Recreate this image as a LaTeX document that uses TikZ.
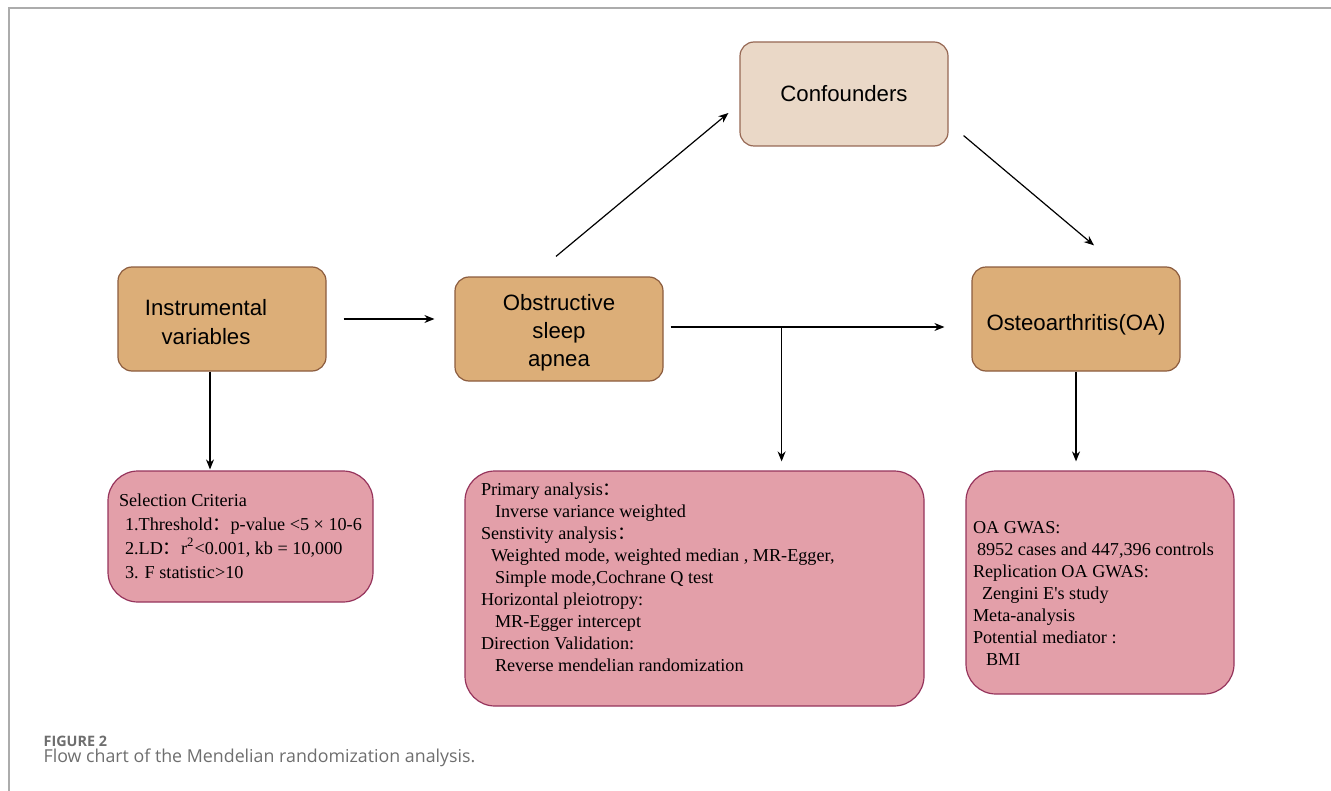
\documentclass[tikz,border=0pt]{standalone}
\usepackage{fontspec}
\setmainfont{Liberation Serif}
\setsansfont{Liberation Sans}
\newfontfamily\cjk{Noto Sans CJK SC}
\newfontfamily\capfont{Open Sans}
\usepackage{tikz}
\usetikzlibrary{arrows.meta,positioning}

\definecolor{tanfill}{RGB}{220,174,120}
\definecolor{tanline}{RGB}{140,92,62}
\definecolor{conffill}{RGB}{234,216,199}
\definecolor{confline}{RGB}{150,104,84}
\definecolor{pinkfill}{RGB}{227,159,169}
\definecolor{pinkline}{RGB}{150,52,92}
\definecolor{framegray}{RGB}{172,172,172}
\definecolor{capgray}{RGB}{110,110,110}

\newcommand{\fcolon}{{\cjk ：}}

\begin{document}
\begin{tikzpicture}[
        x=0.5pt, y=-0.5pt,
        >={Stealth[length=5pt,width=4pt]},
        line width=0.6pt,
        stage/.style={draw=tanline, fill=tanfill, rounded corners=7pt,
                      minimum width=104pt, minimum height=52pt, inner sep=0pt,
                      font=\sffamily\fontsize{11.1}{14}\selectfont, align=center},
        stagetext/.style={align=center, font=\sffamily\fontsize{11.1}{14}\selectfont},
        confbox/.style={stage, draw=confline, fill=conffill},
        infobox/.style={draw=pinkline, fill=pinkfill, rounded corners=15pt, inner sep=0pt},
        infotext/.style={anchor=north west, inner sep=0pt, align=left,
                         font=\fontsize{9.1}{11}\selectfont}
        ]
        \useasboundingbox (0,0) rectangle (1331,791);
        % frame of the figure panel
        \draw[framegray, line width=1pt] (1331,8) -- (9,8) -- (9,791);

        % main stages
        \node[stage, label={[stagetext, font=\sffamily\fontsize{11.1}{14.5}\selectfont, xshift=-8pt, yshift=-1.5pt]center:Instrumental\\variables}] (iv) at (222,319) {};
        \node[stage, label={[stagetext, yshift=-2pt]center:Obstructive\\sleep\\apnea}] (osa) at (559,329) {};
        \node[confbox] (conf) at (844,94) {Confounders};
        \node[stage, label={[stagetext, yshift=-3pt]center:Osteoarthritis(OA)}] (oa) at (1076,319) {};

        % detail boxes
        \node[infobox, minimum width=132.5pt, minimum height=65.5pt] (sel) at (240.5,536.5) {};
        \node[infobox, minimum width=229.5pt, minimum height=117.5pt] (mid) at (694.5,588.5) {};
        \node[infobox, minimum width=134pt, minimum height=111.5pt] (res) at (1100,582.5) {};

        \node[infotext, font=\fontsize{9.1}{12}\selectfont] (selT) at ([shift={(11,23)}]sel.north west) {%
            Selection Criteria\\
            \hspace*{3pt}1.Threshold\fcolon p-value <5 × 10-6\\
            \hspace*{3pt}2.LD\fcolon r\textsuperscript{2}<0.001, kb = 10,000\\
            \hspace*{3pt}3. F statistic>10};
        \node[infotext] (midT) at ([shift={(16,12)}]mid.north west) {%
            Primary analysis\fcolon\\
            \hspace*{7pt}Inverse variance weighted\\
            Senstivity analysis\fcolon\\
            \hspace*{5pt}Weighted mode, weighted median , MR-Egger,\\
            \hspace*{7pt}Simple mode,Cochrane Q test\\
            Horizontal pleiotropy:\\
            \hspace*{7pt}MR-Egger intercept\\
            Direction Validation:\\
            \hspace*{7pt}Reverse mendelian randomization};
        \node[infotext] (resT) at ([shift={(7,50)}]res.north west) {%
            OA GWAS:\\
            \hspace*{2pt}8952 cases and 447,396 controls\\
            Replication OA GWAS:\\
            \hspace*{4.5pt}Zengini E\textquotesingle s study\\
            Meta-analysis\\
            Potential mediator :\\
            \hspace*{6.5pt}BMI};

        % connector points
        \coordinate (a1) at ([shift={(-3,-20)}]osa.north);
        \coordinate (a2) at ([shift={(-11,19)}]conf.west);
        \coordinate (c1) at ([shift={(15,-11)}]conf.south east);
        \coordinate (c2) at ([shift={(18,-21)}]oa.north);
        \coordinate (b0) at ([shift={(7,-2)}]osa.east);
        \coordinate (b1) at ([shift={(111,0)}]b0);
        \coordinate (d1) at ([shift={(-12,0)}]iv.south);

        \path[->]
              ([shift={(17,0)}]iv.east) edge[shorten >=10pt] (iv.east -| osa.west)
              (a1) edge (a2)
              (c1) edge (c2)
              (b0) edge[shorten >=13.5pt] (b0 -| oa.west)
              (b1) edge[shorten >=4.5pt] (b1 |- mid.north)
              (d1) edge[shorten >=0.5pt] (d1 |- sel.north)
              (oa.south) edge[shorten >=4.5pt] (oa.south |- res.north);

        % caption
        \node[anchor=west, inner sep=0pt, text=capgray, font=\capfont\bfseries\fontsize{7.2}{8}\selectfont] (fig) at (43,741) {FIGURE 2};
        \node[anchor=west, inner sep=0pt, text=capgray, font=\capfont\fontsize{8.9}{11}\selectfont] (cap) at (43,758) {Flow chart of the Mendelian randomization analysis.};
\end{tikzpicture}
\end{document}
